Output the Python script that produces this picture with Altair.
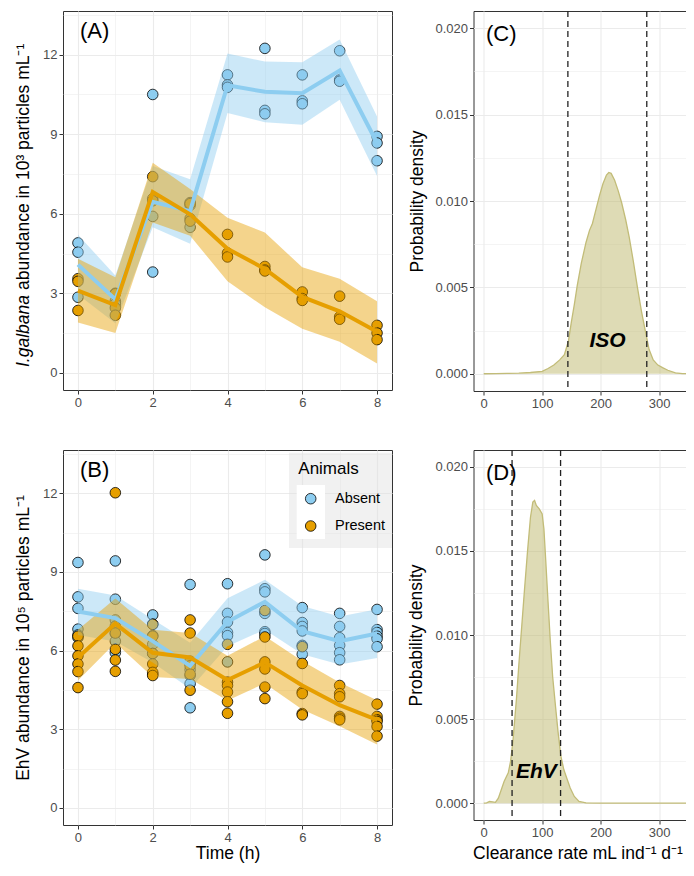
import altair as alt
import pandas as pd

# ---------------- data ----------------
times = [0, 1, 2, 3, 4, 5, 6, 7, 8]
groups = ["Absent", "Present"]
colors = ["#8DCDF0", "#E69F00"]

# Panel A: I. galbana abundance (10^3 particles/mL)
a_abs_pts = [[4.9, 4.55, 2.85], [3.0, 2.7, 2.6], [10.5, 5.9, 3.8], [6.42, 6.32, 5.49],
             [11.24, 10.86, 10.77], [12.24, 9.9, 9.77], [11.24, 10.26, 10.15],
             [12.15, 11.05, 11.0], [8.92, 8.67, 8.0]]
a_pre_pts = [[3.55, 3.45, 2.35], [2.98, 2.45, 2.17], [7.4, 6.57, 6.49], [6.38, 5.82, 5.72],
             [5.22, 4.52, 4.37], [4.01, 3.88, 3.84], [3.05, 2.8, 2.73],
             [2.89, 2.11, 2.02], [1.79, 1.5, 1.25]]
a_abs_mean = [4.08, 2.77, 6.45, 6.1, 10.85, 10.6, 10.55, 11.4, 8.67]
a_abs_lo = [2.95, 1.87, 5.49, 4.87, 9.8, 9.45, 9.36, 10.3, 7.42]
a_abs_hi = [5.21, 3.67, 7.8, 7.3, 12.05, 11.74, 11.72, 12.57, 9.67]
a_pre_mean = [3.1, 2.55, 6.82, 5.98, 4.68, 3.92, 2.86, 2.32, 1.55]
a_pre_lo = [1.9, 1.5, 5.67, 5.17, 3.45, 2.47, 1.66, 1.17, 0.35]
a_pre_hi = [4.3, 3.6, 7.92, 6.93, 5.85, 5.29, 3.98, 3.55, 2.7]

# Panel B: EhV abundance (10^5 particles/mL)
b_abs_pts = [[9.36, 8.05, 7.61, 6.82, 6.6, 6.5], [9.42, 7.96, 7.17, 6.65, 6.36, 5.92],
             [7.36, 7.01, 6.57, 6.24, 5.89, 5.1], [8.52, 5.5, 5.27, 5.05, 4.74, 3.82],
             [8.55, 7.42, 7.09, 6.69, 6.57, 5.57], [9.65, 8.36, 8.24, 7.42, 6.72, 6.65],
             [7.64, 7.07, 6.92, 6.75, 6.2, 5.86], [7.42, 6.92, 6.49, 6.2, 5.92, 5.65],
             [7.57, 6.8, 6.69, 6.55, 6.45, 6.15]]
b_pre_pts = [[6.55, 6.18, 5.8, 5.49, 5.2, 4.59], [12.02, 6.93, 6.67, 6.05, 5.64, 5.21],
             [7.0, 6.55, 5.89, 5.49, 5.17, 5.05], [7.17, 6.67, 5.6, 5.42, 5.1, 4.49],
             [6.24, 4.8, 4.67, 4.42, 4.05, 3.61], [7.53, 6.52, 5.57, 5.3, 4.61, 4.17],
             [6.15, 5.51, 4.42, 4.36, 3.6, 3.55], [4.67, 4.36, 4.24, 3.49, 3.42, 3.36],
             [3.96, 3.49, 3.36, 3.3, 3.11, 2.74]]
b_abs_mean = [7.49, 7.24, 6.36, 5.42, 7.1, 7.86, 6.74, 6.36, 6.65]
b_abs_lo = [6.6, 6.35, 5.55, 4.55, 6.17, 6.8, 5.86, 5.47, 5.72]
b_abs_hi = [8.36, 8.1, 7.2, 6.3, 8.0, 8.7, 7.7, 7.3, 7.58]
b_pre_mean = [5.74, 7.03, 5.92, 5.74, 4.88, 5.55, 4.67, 3.92, 3.36]
b_pre_lo = [4.86, 6.3, 4.99, 4.92, 4.1, 4.75, 3.75, 3.12, 2.42]
b_pre_hi = [6.8, 7.99, 6.8, 6.67, 5.8, 6.55, 5.6, 4.78, 4.11]

# Panel C: clearance rate posterior (ISO)
c_x = [0, 20, 40, 60, 80, 100, 110, 120, 130, 138, 145, 150, 155, 160, 167, 175, 181, 186,
       192, 198, 204, 210, 214, 218, 224, 230, 236, 243, 249, 256, 263, 270, 277, 283, 290,
       298, 306, 315, 328, 340, 350]
c_y = [0, 0.00001, 0.00002, 0.00003, 0.00007, 0.00014, 0.0003, 0.0005, 0.0008, 0.0011,
       0.0019, 0.003, 0.004, 0.0051, 0.0064, 0.0076, 0.0083, 0.0087, 0.0095, 0.0103, 0.011,
       0.0115, 0.01165, 0.0116, 0.0112, 0.0106, 0.0099, 0.0089, 0.0079, 0.0065, 0.005,
       0.0036, 0.0024, 0.0014, 0.0008, 0.0005, 0.00035, 0.0002, 0.00005, 0.00001, 0]
c_interval = [144, 279]

# Panel D: clearance rate posterior (EhV)
d_x = [0, 5, 10, 15, 20, 25, 30, 35, 42, 46, 50, 56, 60, 65, 70, 75, 80, 84, 87, 90, 95,
       100, 103, 106, 110, 114, 118, 123, 127, 132, 137, 142, 148, 155, 163, 175, 200, 250,
       300, 350]
d_y = [0, 0.00002, 0.0001, 0.00008, 0.00005, 0.0003, 0.0008, 0.0013, 0.0018, 0.0025,
       0.0037, 0.0062, 0.0082, 0.0105, 0.0128, 0.015, 0.017, 0.0179, 0.018, 0.0177, 0.0175,
       0.0172, 0.0163, 0.0145, 0.012, 0.0096, 0.0075, 0.0057, 0.0043, 0.0028, 0.002, 0.0015,
       0.0009, 0.0004, 0.0001, 0.00002, 0, 0, 0, 0]
d_interval = [48.5, 131.5]

panel_labels = ["(A)", "(B)", "(C)", "(D)"]
a_title_parts = ["I.galbana", "abundance in 10\u00b3 particles mL\u207b\u00b9"]
b_title = "EhV abundance in 10\u2075 particles mL\u207b\u00b9"
x_title_left = "Time (h)"
x_title_right = "Clearance rate mL ind\u207b\u00b9 d\u207b\u00b9"
y_title_right = "Probability density"
curve_labels = ["ISO", "EhV"]
legend_title = "Animals"


def points_df(abs_pts, pre_pts):
    rows = []
    for g, pts in zip(groups, [abs_pts, pre_pts]):
        for t, vals in zip(times, pts):
            for v in vals:
                rows.append({"Time": t, "Value": v, "Animals": g})
    return pd.DataFrame(rows)


def summary_df(am, alo, ahi, pm, plo, phi):
    rows = []
    for g, m, lo, hi in [("Absent", am, alo, ahi), ("Present", pm, plo, phi)]:
        for t, a, b, c in zip(times, m, lo, hi):
            rows.append({"Time": t, "Mean": a, "Lo": b, "Hi": c, "Animals": g})
    return pd.DataFrame(rows)


FONT = "Liberation Sans"
BORDER = "#333333"
LW = 329
AH = 379
BH = 375
RW = 225
CH = 380
DH = 370

fill_scale = alt.Scale(domain=groups, range=colors)
x_left_scale = alt.Scale(domain=[-0.4, 8.4], nice=False, zero=False)
y_left_scale = alt.Scale(domain=[-0.65, 13.65], nice=False, zero=False)
x_right_scale = alt.Scale(domain=[-17.5, 367.5], nice=False, zero=False)
y_right_scale = alt.Scale(domain=[-0.001, 0.021], nice=False, zero=False)


def grid_axis(values, major_test, fmt, **kw):
    minor = "!(" + major_test + ")"
    return alt.Axis(
        values=values, format=fmt,
        labelExpr="(" + major_test + ") ? datum.label : ''",
        tickOpacity={"condition": {"test": minor, "value": 0}, "value": 1},
        gridWidth={"condition": {"test": minor, "value": 0.55}, "value": 1.1},
        grid=True, labelFlush=False, labelOverlap=False, **kw)


x_left_vals = list(range(0, 9))
y_left_vals = [i * 1.5 for i in range(10)]
x_right_vals = [i * 50 for i in range(8)]
y_right_vals = [round(i * 0.0025, 4) for i in range(9)]


def x_left_axis(**kw):
    return grid_axis(x_left_vals, "datum.value % 2 === 0", "d", **kw)


def y_left_axis(**kw):
    return grid_axis(y_left_vals, "datum.value % 3 === 0", "d", **kw)


def x_right_axis(**kw):
    return grid_axis(x_right_vals, "datum.value % 100 === 0", "d", **kw)


def y_right_axis(**kw):
    return grid_axis(y_right_vals, "round(datum.value * 400) % 2 === 0", ".3f", **kw)


def left_panel(pdf, sdf, label, xaxis, yaxis):
    X = alt.X("Time:Q", scale=x_left_scale, axis=xaxis)
    pts = alt.Chart(pdf).mark_circle(size=112, opacity=1, stroke="black", strokeWidth=0.8).encode(
        x=X, y=alt.Y("Value:Q", scale=y_left_scale, axis=yaxis),
        fill=alt.Fill("Animals:N", scale=fill_scale, legend=None))
    rib = alt.Chart(sdf).mark_area(opacity=0.45).encode(
        x=X, y=alt.Y("Lo:Q", scale=y_left_scale, axis=yaxis), y2="Hi:Q",
        fill=alt.Fill("Animals:N", scale=fill_scale, legend=None))
    line = alt.Chart(sdf).mark_line(strokeWidth=4).encode(
        x=X, y=alt.Y("Mean:Q", scale=y_left_scale, axis=yaxis),
        stroke=alt.Stroke("Animals:N", scale=fill_scale, legend=None))
    lab = alt.Chart(pd.DataFrame({"l": [label]})).mark_text(
        align="left", baseline="middle", fontSize=22, font=FONT, color="black").encode(
        x=alt.value(17), y=alt.value(20), text="l:N")
    return [pts, rib, line, lab]


def right_panel(xs, ys, interval, label, clabel, lab_pos, xaxis, yaxis):
    df = pd.DataFrame({"x": xs, "y": ys})
    X = alt.X("x:Q", scale=x_right_scale, axis=xaxis)
    Y = alt.Y("y:Q", scale=y_right_scale, axis=yaxis)
    area = alt.Chart(df).mark_area(color="#BDB76B", opacity=0.5).encode(x=X, y=Y)
    line = alt.Chart(df).mark_line(color="#C2BC78", strokeWidth=1.3).encode(x=X, y=Y)
    rules = alt.Chart(pd.DataFrame({"x": interval})).mark_rule(
        color="#222222", strokeWidth=1.3, strokeDash=[6, 4]).encode(x=X)
    ctext = alt.Chart(pd.DataFrame({"l": [clabel]})).mark_text(
        fontSize=21, fontWeight="bold", fontStyle="italic", font=FONT, color="black",
        baseline="middle").encode(
        x=alt.datum(lab_pos[0], scale=x_right_scale), y=alt.datum(lab_pos[1], scale=y_right_scale),
        text="l:N")
    lab = alt.Chart(pd.DataFrame({"l": [label]})).mark_text(
        align="left", baseline="middle", fontSize=22, font=FONT, color="black").encode(
        x=alt.value(12.5), y=alt.value(23), text="l:N")
    return [area, line, rules, ctext, lab]


# ---- Panel A ----
A_layers = left_panel(points_df(a_abs_pts, a_pre_pts),
                      summary_df(a_abs_mean, a_abs_lo, a_abs_hi, a_pre_mean, a_pre_lo, a_pre_hi),
                      panel_labels[0], x_left_axis(title=None), y_left_axis(title=None))
a_t1 = alt.Chart(pd.DataFrame({"l": [a_title_parts[0]]})).mark_text(
    angle=270, align="right", baseline="middle", fontSize=17.5, fontStyle="italic",
    font=FONT, color="black").encode(x=alt.value(-39.5), y=alt.value(284), text="l:N")
a_t2 = alt.Chart(pd.DataFrame({"l": [a_title_parts[1]]})).mark_text(
    angle=270, align="left", baseline="middle", fontSize=17.5,
    font=FONT, color="black").encode(x=alt.value(-39.5), y=alt.value(279), text="l:N")
A = alt.layer(*A_layers, a_t1, a_t2).properties(width=LW, height=AH)

# ---- Panel B ----
B_layers = left_panel(
    points_df(b_abs_pts, b_pre_pts),
    summary_df(b_abs_mean, b_abs_lo, b_abs_hi, b_pre_mean, b_pre_lo, b_pre_hi),
    panel_labels[1],
    x_left_axis(title=x_title_left, titleY=33, titleBaseline="alphabetic"),
    y_left_axis(title=b_title, titleX=-39.5, titleY=BH / 2, titleAngle=270,
                titleAlign="center", titleBaseline="middle"))
one = pd.DataFrame({"k": [0]})
leg_bg = alt.Chart(one).mark_rect(fill="#E0E0E0", opacity=0.45).encode(
    x=alt.value(226), x2=alt.value(LW), y=alt.value(2.7), y2=alt.value(98))
leg_key = alt.Chart(one).mark_rect(fill="white").encode(
    x=alt.value(233.7), x2=alt.value(262), y=alt.value(35), y2=alt.value(89))
leg_title = alt.Chart(pd.DataFrame({"l": [legend_title]})).mark_text(
    align="left", baseline="middle", fontSize=17, font=FONT, color="black").encode(
    x=alt.value(235.3), y=alt.value(19), text="l:N")
leg_items = []
for i, g in enumerate(groups):
    gdf = pd.DataFrame({"Animals": [g]})
    leg_items.append(alt.Chart(gdf).mark_circle(size=112, opacity=1, stroke="black", strokeWidth=0.8).encode(
        x=alt.value(247.7), y=alt.value(48.7 + 27.3 * i),
        fill=alt.Fill("Animals:N", scale=fill_scale, legend=None)))
    leg_items.append(alt.Chart(gdf).mark_text(
        align="left", baseline="middle", fontSize=14.5, font=FONT, color="black").encode(
        x=alt.value(272), y=alt.value(48.7 + 27.3 * i), text="Animals:N"))
B = alt.layer(*B_layers, leg_bg, leg_key, leg_title, *leg_items).properties(width=LW, height=BH)

# ---- Panel C ----
C = alt.layer(*right_panel(
    c_x, c_y, c_interval, panel_labels[2], curve_labels[0], (212, 0.0019),
    x_right_axis(title=None),
    y_right_axis(title=y_title_right, titleX=-56, titleY=CH / 2, titleAngle=270,
                 titleAlign="center", titleBaseline="middle"))).properties(width=RW, height=CH)

# ---- Panel D ----
D = alt.layer(*right_panel(
    d_x, d_y, d_interval, panel_labels[3], curve_labels[1], (90, 0.00185),
    x_right_axis(title=x_title_right, titleX=104, titleY=38, titleAlign="center",
                 titleBaseline="alphabetic"),
    y_right_axis(title=y_title_right, titleX=-57, titleY=DH / 2, titleAngle=270,
                 titleAlign="center", titleBaseline="middle"))).properties(width=RW, height=DH)

# fixed-size canvas (678 x 856) with the top-left panel placed at (55, 3);
# the right-hand panels run past the canvas edge and are cut, as in the original figure
chart = alt.concat(A, C, B, D, columns=2, bounds="flush",
                   spacing={"row": 59, "column": 81.5}).properties(
    autosize=alt.AutoSizeParams(type="none"),
    padding={"left": 55, "top": 3, "right": 623, "bottom": 853}
).configure_view(stroke=BORDER, strokeWidth=1).configure_axis(
    labelFont=FONT, labelFontSize=13, labelColor="#4D4D4D", labelPadding=2,
    titleFont=FONT, titleFontSize=17.5, titleFontWeight="normal", titleColor="black",
    tickColor=BORDER, tickSize=4, tickWidth=1, domain=False, gridColor="#EBEBEB"
).configure_text(font=FONT)

chart.save("out.html", embed_options={"renderer": "svg", "actions": False})
